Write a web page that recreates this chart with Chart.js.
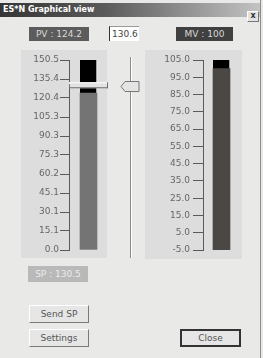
<!DOCTYPE html>
<html lang="en">
  <head>
    <meta charset="UTF-8" />
    <title>ES*N Graphical view</title>
    <style>
      * { margin: 0; padding: 0; box-sizing: border-box; }
      body {
        width: 263px; height: 358px; overflow: hidden; position: relative;
        background: #e9e9e8; font-family: 'DejaVu Sans', sans-serif; font-size: 9px;
      }
      .abs { position: absolute; }
      .title {
        left: 0; top: 3px; width: 261px; height: 14px;
        background: linear-gradient(to right, #353535, #5a5a5a 40%, #c4c4c4);
        color: #fff; font-weight: bold; font-size: 8px; line-height: 14px; padding-left: 3px;
      }
      .closebox {
        left: 247px; top: 11px; width: 12px; height: 11px; background: #e2e2e2;
        border: 1px solid; border-color: #fff #777 #777 #fff;
        font-size: 8px; line-height: 8px; text-align: center; font-weight: bold; color: #333;
      }
      .frame { left: 260px; top: 0; width: 1px; height: 358px; background: #8c8c8c; }
      .label {
        text-align: center; line-height: 14px; height: 14px;
      }
      .pv { left: 29px; top: 27px; width: 60px; background: #5c5c5c; color: #d8d8d8; }
      .mv { left: 176px; top: 27px; width: 57px; background: #404040; color: #d8d8d8; }
      .sp { left: 28px; top: 266px; width: 60px; height: 16px; line-height: 16px; background: #b9b9b9; color: #ececec; }
      .input {
        left: 109px; top: 26px; width: 30px; height: 15px; background: #fff;
        border-left: 1px solid #333; border-top: 1px solid #999; color: #444;
        line-height: 14px; padding-left: 2px;
      }
      .panel { background: #dcdddc; }
      .btn {
        height: 18px; line-height: 16px; text-align: center; color: #555;
        background: #e6e6e6; border: 1px solid; border-color: #fff #7a7a7a #7a7a7a #fff;
      }
      .btn.def { border: 2px solid #333; line-height: 14px; }
      canvas { position: absolute; }
    </style>
  </head>
  <body>
    <div class="abs title">ES*N Graphical view</div>
    <div class="abs closebox">x</div>
    <div class="abs frame"></div>

    <div class="abs label pv" id="pvLabel"></div>
    <div class="abs input" id="spInput"></div>
    <div class="abs label mv" id="mvLabel"></div>

    <div class="abs panel" style="left:21px; top:50px; width:86px; height:208px"></div>
    <div class="abs panel" style="left:145px; top:50px; width:97px; height:209px"></div>

    <canvas id="pvChart" width="124" height="210" style="left:21px; top:50px"></canvas>
    <canvas id="mvChart" width="97" height="210" style="left:145px; top:50px"></canvas>

    <div class="abs label sp" id="spLabel"></div>

    <div class="abs btn" style="left:29px; top:305px; width:60px">Send SP</div>
    <div class="abs btn" style="left:29px; top:329px; width:60px">Settings</div>
    <div class="abs btn def" style="left:180px; top:329px; width:61px">Close</div>

    <script src="https://cdn.jsdelivr.net/npm/chart.js@4/dist/chart.umd.min.js"></script>
    <script>
      // Process values
      const pvValue = 124.2
      const spValue = 130.5
      const spEntry = 130.6
      const mvValue = 100
      const pvRange = [0, 150.5]
      const mvRange = [-5, 105]
      const pvTicks = [0.0, 15.1, 30.1, 45.1, 60.2, 75.3, 90.3, 105.3, 120.4, 135.4, 150.5]
      const mvTicks = [-5, 5, 15, 25, 35, 45, 55, 65, 75, 85, 95, 105]

      document.getElementById('pvLabel').textContent = 'PV : ' + pvValue.toFixed(1)
      document.getElementById('mvLabel').textContent = 'MV : ' + mvValue
      document.getElementById('spLabel').textContent = 'SP : ' + spValue.toFixed(1)
      document.getElementById('spInput').textContent = spEntry.toFixed(1)

      function gaugeOptions(range, ticks, axisWidth, tickLen, pad, padRight) {
        return {
          responsive: false,
          animation: false,
          layout: { padding: { top: 10, bottom: 10, left: 0, right: padRight } },
          plugins: { legend: { display: false }, tooltip: { enabled: false } },
          scales: {
            x: { display: false },
            y: {
              min: range[0],
              max: range[1],
              afterBuildTicks: (scale) => {
                scale.ticks = ticks.map((v) => ({ value: v }))
              },
              afterFit: (scale) => {
                scale.width = axisWidth
              },
              grid: { drawOnChartArea: false, tickLength: tickLen, color: '#5a5a5a' },
              border: { display: true, color: '#5a5a5a' },
              ticks: {
                padding: pad,
                color: '#666',
                font: { family: 'DejaVu Sans', size: 9 },
                callback: (v) => Number(v).toFixed(1)
              }
            }
          }
        }
      }

      // Raised slider thumb for setpoint and the manual slider
      const sliderPlugin = {
        id: 'slider',
        afterDatasetsDraw(chart) {
          const { ctx, chartArea, scales } = chart
          const y = scales.y.getPixelForValue(spValue)
          ctx.save()
          // setpoint marker across the gauge
          const x0 = chartArea.left, x1 = chartArea.right
          ctx.fillStyle = '#e2e2e2'
          ctx.fillRect(x0, y - 3, x1 - x0, 6)
          ctx.fillStyle = '#fff'
          ctx.fillRect(x0, y - 3, x1 - x0, 1)
          ctx.fillStyle = '#6e6e6e'
          ctx.fillRect(x0, y + 2, x1 - x0, 1)
          ctx.fillRect(x1 - 1, y - 3, 1, 6)
          ctx.fillRect(x0, y - 1, 1, 4)

          // middle track
          const tx = chartArea.right + 22
          ctx.fillStyle = '#8a8a8a'
          ctx.fillRect(tx, 7, 1, 201)
          ctx.fillStyle = '#ffffff'
          ctx.fillRect(tx + 1, 7, 1, 201)

          // middle thumb, pointing left
          const ty = Math.round(scales.y.getPixelForValue(spEntry)) + 1.5
          ctx.beginPath()
          ctx.moveTo(tx - 9, ty)
          ctx.lineTo(tx - 5, ty - 5)
          ctx.lineTo(tx + 9, ty - 5)
          ctx.lineTo(tx + 9, ty + 5)
          ctx.lineTo(tx - 5, ty + 5)
          ctx.closePath()
          ctx.fillStyle = '#e4e4e4'
          ctx.fill()
          ctx.strokeStyle = '#777'
          ctx.lineWidth = 1
          ctx.stroke()
          ctx.restore()
        }
      }

      new Chart(document.getElementById('pvChart'), {
        type: 'bar',
        data: {
          labels: ['PV'],
          datasets: [
            { data: [[pvRange[0], pvValue]], backgroundColor: '#747474', barThickness: 17, grouped: false },
            {
              data: [pvRange],
              backgroundColor: '#000',
              borderColor: '#f2f2f2',
              borderWidth: { right: 1, bottom: 1, top: 0, left: 0 },
              borderSkipped: false,
              barThickness: 17,
              grouped: false
            }
          ]
        },
        options: gaugeOptions(pvRange, pvTicks, 48, 9, 1, 37),
        plugins: [sliderPlugin]
      })

      new Chart(document.getElementById('mvChart'), {
        type: 'bar',
        data: {
          labels: ['MV'],
          datasets: [
            { data: [[mvRange[0], mvValue]], backgroundColor: '#4a4744', barThickness: 17, grouped: false },
            {
              data: [mvRange],
              backgroundColor: '#000',
              borderColor: '#f2f2f2',
              borderWidth: { right: 1, bottom: 1, top: 0, left: 0 },
              borderSkipped: false,
              barThickness: 17,
              grouped: false
            }
          ]
        },
        options: gaugeOptions(mvRange, mvTicks, 58, 10, 3, 2)
      })
    </script>
  </body>
</html>
